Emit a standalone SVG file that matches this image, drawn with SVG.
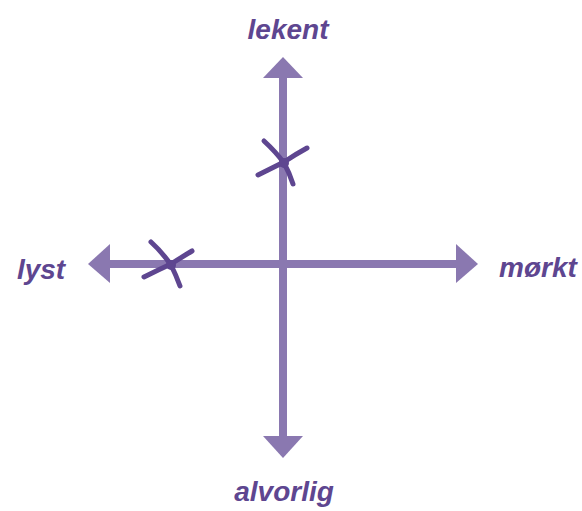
<svg xmlns="http://www.w3.org/2000/svg" width="582" height="511" viewBox="0 0 582 511">
<style>
.axis{stroke:#8A78B0;stroke-width:8;fill:none}
.head{fill:#8A78B0}
.mark{stroke:#5E4690;stroke-width:5;stroke-linecap:round;fill:none}
.dot{fill:#5E4690}
.lbl{font-family:"Liberation Sans",Arial,sans-serif;font-style:italic;font-weight:bold;font-size:28px;fill:#5E4690;text-anchor:middle}
</style>
<rect width="582" height="511" fill="#ffffff"/>
<g id="connectors">
<line class="axis" x1="283" y1="78" x2="283" y2="436"/>
<polygon class="head" points="283,57 303,78 263,78"/>
<polygon class="head" points="283,458 303,436 263,436"/>
<line class="axis" x1="110" y1="264" x2="456" y2="264"/>
<polygon class="head" points="88,264 110,244 110,283"/>
<polygon class="head" points="478,264 456,244 456,283"/>
</g>
<g id="mark-top">
<path class="mark" d="M264,141 Q276,152 284,163 Q289,172 293,184"/>
<path class="mark" d="M258,175 Q272,168 284,162 Q296,154 307,148"/>
<circle class="dot" cx="284" cy="163" r="5"/>
</g>
<g id="mark-left">
<path class="mark" d="M151,242 Q162,252 171,265 Q176,275 180,286"/>
<path class="mark" d="M144,277 Q158,270 171,264 Q182,257 192,251"/>
<circle class="dot" cx="171" cy="265" r="5"/>
</g>
<g id="lekent"><text class="lbl" x="288" y="39">lekent</text></g>
<g id="lyst"><text class="lbl" x="41" y="279">lyst</text></g>
<g id="morkt"><text class="lbl" x="538" y="277">mørkt</text></g>
<g id="alvorlig"><text class="lbl" x="284" y="501">alvorlig</text></g>
</svg>
